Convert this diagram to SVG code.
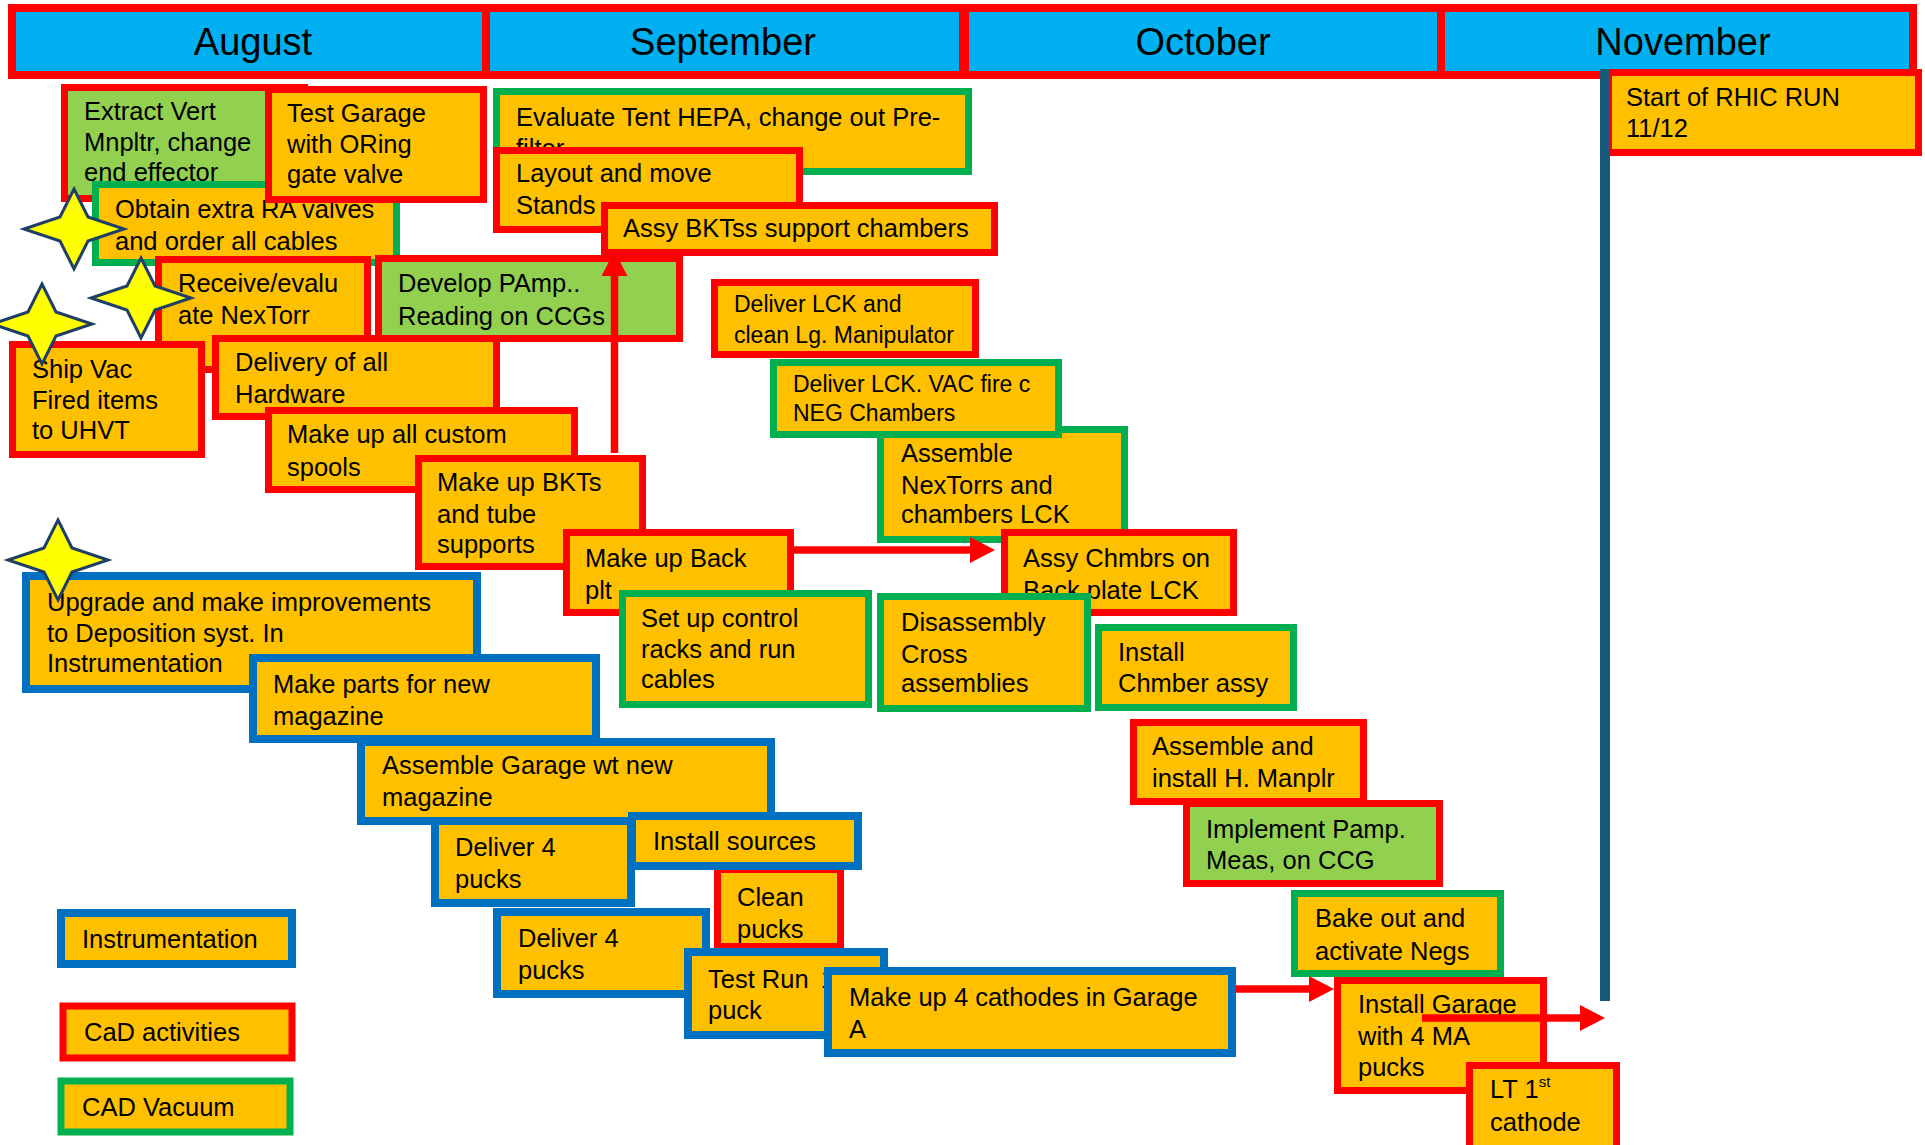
<svg xmlns="http://www.w3.org/2000/svg" xmlns:xlink="http://www.w3.org/1999/xlink" width="1925" height="1145" viewBox="0 0 1925 1145">
<style>
.hd{fill:#00B0F0;stroke:#FF0000;stroke-width:8}
.r{fill:#FFC000;stroke:#FF0000;stroke-width:7}
.g{fill:#FFC000;stroke:#00B050;stroke-width:7}
.rg{fill:#92D050;stroke:#FF0000;stroke-width:7}
.b{fill:#FFC000;stroke:#0070C0;stroke-width:8}
.t{font-family:"Liberation Sans",Arial,sans-serif;font-size:25.5px;fill:#000}
.s{font-size:23px}
.ht{font-family:"Liberation Sans",Arial,sans-serif;font-size:38px;fill:#000;text-anchor:middle}
.star{fill:#FFFF00;stroke:#1F3F66;stroke-width:3;stroke-linejoin:miter}
.ar{stroke:#FF0000;stroke-width:7.5;fill:none}
</style>
<defs>
<path id="star4" d="M0,-40 L14,-12 L50,0 L14,12 L0,40 L-14,12 L-50,0 L-14,-12 Z"/>
<marker id="ah" markerUnits="userSpaceOnUse" markerWidth="26" markerHeight="26" refX="1" refY="13" orient="auto">
<path d="M0,0 L25,13 L0,26 Z" fill="#FF0000"/>
</marker>
</defs>
<rect width="1925" height="1145" fill="#FFFFFF"/>

<g id="header">
<rect class="hd" x="12" y="8" width="474" height="67"/>
<rect class="hd" x="486" y="8" width="477" height="67"/>
<rect class="hd" x="965" y="8" width="476" height="67"/>
<rect class="hd" x="1441" y="8" width="472" height="67"/>
<text class="ht" x="253" y="55">August</text>
<text class="ht" x="723" y="55">September</text>
<text class="ht" x="1203" y="55">October</text>
<text class="ht" x="1683" y="55">November</text>
</g>

<g id="extract"><rect class="rg" x="64.5" y="87.5" width="240" height="111"/>
<text class="t" x="84" y="120">Extract Vert</text><text class="t" x="84" y="151">Mnpltr, change</text><text class="t" x="84" y="181">end effector</text></g>
<g id="obtain"><rect class="g" x="95.5" y="184.5" width="301" height="78"/>
<text class="t" x="115" y="218">Obtain extra RA valves</text><text class="t" x="115" y="250">and order all cables</text></g>
<g id="testgarage"><rect class="r" x="268.5" y="89.5" width="215" height="110"/>
<text class="t" x="287" y="122">Test Garage</text><text class="t" x="287" y="153">with ORing</text><text class="t" x="287" y="183">gate valve</text></g>
<use id="star1" class="star" xlink:href="#star4" href="#star4" x="74" y="229"/>
<g id="receive"><rect class="r" x="158.5" y="259.5" width="209" height="110"/>
<text class="t" x="178" y="292">Receive/evalu</text><text class="t" x="178" y="324">ate NexTorr</text><text class="t" x="178" y="356">pu</text></g>
<use id="star2" class="star" xlink:href="#star4" href="#star4" x="141" y="298"/>
<g id="develop"><rect class="rg" x="378.5" y="258.5" width="301" height="80"/>
<text class="t" x="398" y="292">Develop PAmp..</text><text class="t" x="398" y="325">Reading on CCGs</text></g>
<g id="delivery"><rect class="r" x="215.5" y="338.5" width="281" height="78"/>
<text class="t" x="235" y="371">Delivery of all</text><text class="t" x="235" y="403">Hardware</text></g>
<g id="shipvac"><rect class="r" x="12.5" y="344.5" width="189" height="110"/>
<text class="t" x="32" y="378">Ship Vac</text><text class="t" x="32" y="409">Fired items</text><text class="t" x="32" y="439">to UHVT</text></g>
<use id="star3" class="star" xlink:href="#star4" href="#star4" x="42" y="324"/>
<g id="spools"><rect class="r" x="268.5" y="410.5" width="306" height="79"/>
<text class="t" x="287" y="443">Make up all custom</text><text class="t" x="287" y="476">spools</text></g>
<g id="bkts"><rect class="r" x="418.5" y="458.5" width="224" height="108"/>
<text class="t" x="437" y="491">Make up BKTs</text><text class="t" x="437" y="523">and tube</text><text class="t" x="437" y="553">supports</text></g>
<g id="backplt"><rect class="r" x="566.5" y="532.5" width="224" height="80"/>
<text class="t" x="585" y="567">Make up Back</text><text class="t" x="585" y="599">plt</text></g>
<g id="setup"><rect class="g" x="622.5" y="593.5" width="246" height="111"/>
<text class="t" x="641" y="627">Set up control</text><text class="t" x="641" y="658">racks and run</text><text class="t" x="641" y="688">cables</text></g>

<g id="evaluate"><rect class="g" x="496.5" y="91.5" width="472" height="80"/>
<text class="t" x="516" y="126">Evaluate Tent HEPA, change out Pre-</text><text class="t" x="516" y="157">filter</text></g>
<g id="layout"><rect class="r" x="496.5" y="150.5" width="303" height="79"/>
<text class="t" x="516" y="182">Layout and move</text><text class="t" x="516" y="214">Stands</text></g>
<g id="assybkt"><rect class="r" x="604.5" y="205.5" width="390" height="47"/>
<text class="t" x="623" y="237">Assy BKTss support chambers</text></g>
<g id="assemblenex"><rect class="g" x="880.5" y="429.5" width="244" height="110"/>
<text class="t" x="901" y="462">Assemble</text><text class="t" x="901" y="494">NexTorrs and</text><text class="t" x="901" y="523">chambers LCK</text></g>
<g id="deliverlck"><rect class="r" x="714.5" y="282.5" width="261" height="72"/>
<text class="t s" x="734" y="312">Deliver LCK and</text><text class="t s" x="734" y="343">clean Lg. Manipulator</text></g>
<g id="delivervac"><rect class="g" x="773.5" y="362.5" width="285" height="72"/>
<text class="t s" x="793" y="392">Deliver LCK. VAC fire c</text><text class="t s" x="793" y="421">NEG Chambers</text></g>
<g id="assychmbrs"><rect class="r" x="1004.5" y="532.5" width="229" height="80"/>
<text class="t" x="1023" y="567">Assy Chmbrs on</text><text class="t" x="1023" y="599">Back plate LCK</text></g>
<g id="disassembly"><rect class="g" x="880.5" y="596.5" width="207" height="112"/>
<text class="t" x="901" y="631">Disassembly</text><text class="t" x="901" y="663">Cross</text><text class="t" x="901" y="692">assemblies</text></g>
<g id="installchmber"><rect class="g" x="1098.5" y="627.5" width="195" height="80"/>
<text class="t" x="1118" y="661">Install</text><text class="t" x="1118" y="692">Chmber assy</text></g>

<g id="upgrade"><rect class="b" x="26" y="576" width="451" height="113"/>
<text class="t" x="47" y="611">Upgrade and make improvements</text><text class="t" x="47" y="642">to Deposition syst. In</text><text class="t" x="47" y="672">Instrumentation</text></g>
<use id="star5" class="star" xlink:href="#star4" href="#star4" x="58" y="560"/>
<g id="makeparts"><rect class="b" x="253" y="658" width="343" height="81"/>
<text class="t" x="273" y="693">Make parts for new</text><text class="t" x="273" y="725">magazine</text></g>
<g id="assemblegarage"><rect class="b" x="361" y="742" width="410" height="79"/>
<text class="t" x="382" y="774">Assemble Garage wt new</text><text class="t" x="382" y="806">magazine</text></g>
<g id="deliver4a"><rect class="b" x="435" y="821" width="196" height="82"/>
<text class="t" x="455" y="856">Deliver 4</text><text class="t" x="455" y="888">pucks</text></g>
<g id="cleanpucks"><rect class="r" x="717.5" y="869.5" width="123" height="77"/>
<text class="t" x="737" y="906">Clean</text><text class="t" x="737" y="938">pucks</text></g>
<g id="installsources"><rect class="b" x="632" y="816" width="226" height="50"/>
<text class="t" x="653" y="850">Install sources</text></g>
<g id="deliver4b"><rect class="b" x="497" y="912" width="209" height="82"/>
<text class="t" x="518" y="947">Deliver 4</text><text class="t" x="518" y="979">pucks</text></g>
<g id="testrun"><rect class="b" x="688" y="952" width="196" height="83"/>
<text class="t" x="708" y="988">Test Run <tspan dx="5">1</tspan></text><text class="t" x="708" y="1019">puck</text></g>
<g id="cathodes"><rect class="b" x="828" y="971" width="404" height="82"/>
<text class="t" x="849" y="1006">Make up 4 cathodes in Garage</text><text class="t" x="849" y="1038">A</text></g>

<g id="assembleh"><rect class="r" x="1133.5" y="722.5" width="230" height="79"/>
<text class="t" x="1152" y="755">Assemble and</text><text class="t" x="1152" y="787">install H. Manplr</text></g>
<g id="implement"><rect class="rg" x="1186.5" y="803.5" width="253" height="80"/>
<text class="t" x="1206" y="838">Implement Pamp.</text><text class="t" x="1206" y="869">Meas, on CCG</text></g>
<g id="bakeout"><rect class="g" x="1294.5" y="893.5" width="206" height="80"/>
<text class="t" x="1315" y="927">Bake out and</text><text class="t" x="1315" y="960">activate Negs</text></g>
<g id="installgarage"><rect class="r" x="1337.5" y="980.5" width="206" height="110"/>
<text class="t" x="1358" y="1013">Install Garage</text><text class="t" x="1358" y="1045">with 4 MA</text><text class="t" x="1358" y="1076">pucks</text></g>
<g id="lt1st"><rect class="r" x="1469.5" y="1065.5" width="147" height="90"/>
<text class="t" x="1490" y="1098">LT 1<tspan font-size="15" dy="-11">st</tspan></text><text class="t" x="1490" y="1131">cathode</text></g>
<g id="rhic"><rect class="r" x="1608.5" y="72.5" width="310" height="80"/>
<text class="t" x="1626" y="106">Start of RHIC RUN</text><text class="t" x="1626" y="137">11/12</text></g>
<rect id="runline" x="1600" y="69" width="10" height="932" fill="#17597A"/>

<g id="legend">
<g id="leg-instr"><rect class="b" x="61" y="913" width="231" height="51"/><text class="t" x="82" y="948">Instrumentation</text></g>
<g id="leg-cad"><rect class="r" x="63" y="1006" width="229" height="52"/><text class="t" x="84" y="1041">CaD activities</text></g>
<g id="leg-vac"><rect class="g" x="61" y="1081" width="229" height="51"/><text class="t" x="82" y="1116">CAD Vacuum</text></g>
</g>

<g id="connectors">
<line class="ar" x1="614.5" y1="453" x2="614.5" y2="275" marker-end="url(#ah)"/>
<line class="ar" x1="794" y1="550" x2="971" y2="550" marker-end="url(#ah)"/>
<line class="ar" x1="1236" y1="989" x2="1310" y2="989" marker-end="url(#ah)"/>
<line class="ar" x1="1422" y1="1018" x2="1581" y2="1018" marker-end="url(#ah)"/>
</g>
</svg>
